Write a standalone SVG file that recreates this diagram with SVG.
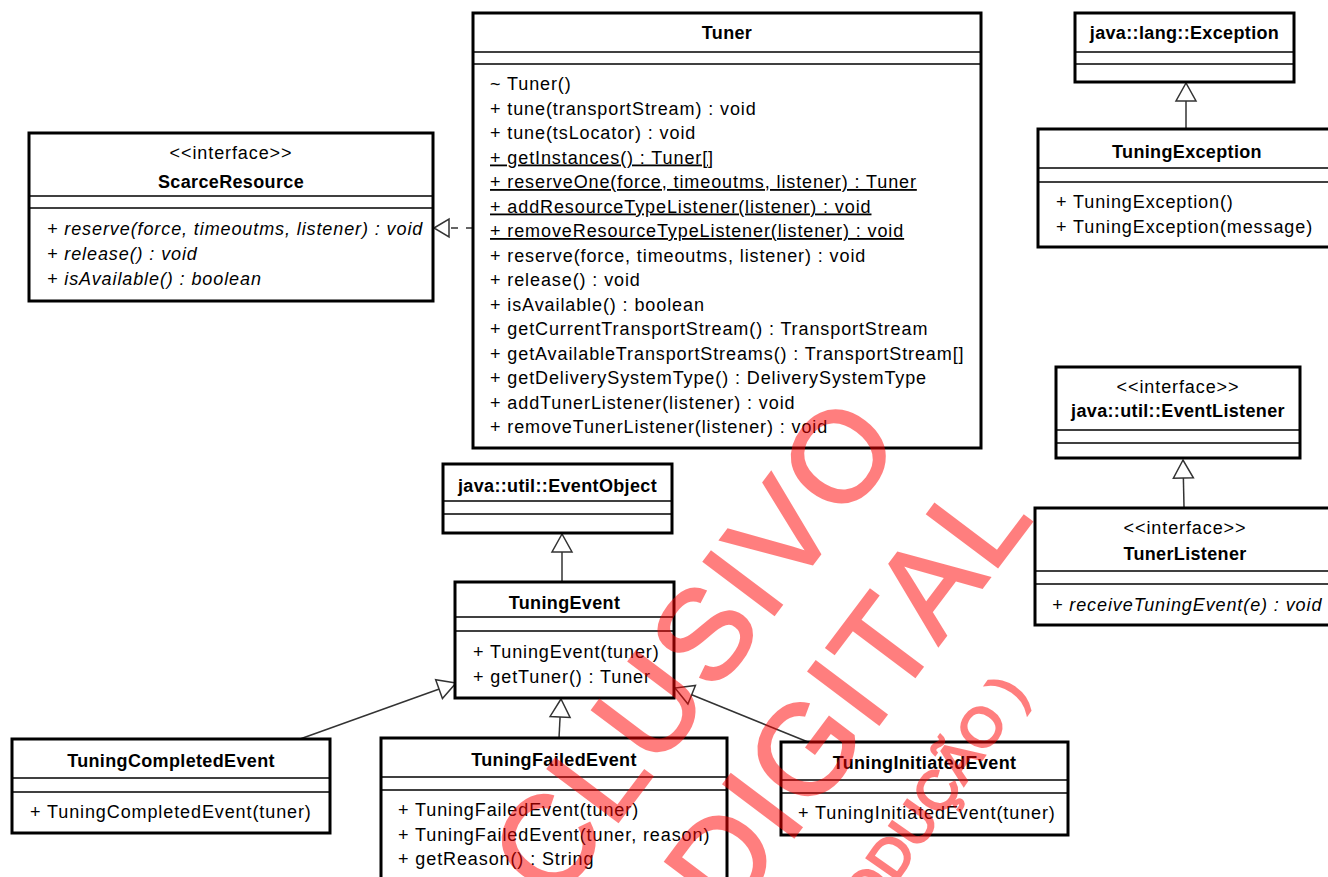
<svg xmlns="http://www.w3.org/2000/svg" width="1328" height="877" viewBox="0 0 1328 877">
<defs>
<style>
.box{fill:#fff;stroke:#000;stroke-width:3}
.sep{stroke:#000;stroke-width:1.3}
.t{font-family:"Liberation Sans",Arial,sans-serif;font-size:18px;letter-spacing:0.9px;fill:#000}
.n{font-weight:bold;letter-spacing:0.35px;text-anchor:middle}
.c{text-anchor:middle}
.i{font-style:italic}
.u{text-decoration:underline}
.conn{stroke:#333;stroke-width:1.5;fill:none}
.wm{font-family:"Liberation Sans",Arial,sans-serif;fill:#ff0000;stroke:#ff0000;stroke-width:2.5}
</style>
<marker id="gen" markerUnits="userSpaceOnUse" markerWidth="24" markerHeight="24" refX="18" refY="10" orient="auto" overflow="visible">
<path d="M18,10 L0,0 L0,20 Z" fill="#fff" stroke="#333" stroke-width="1.5"/>
</marker>
</defs>
<rect width="1328" height="877" fill="#fff"/>

<g id="connectors">
<line class="conn" x1="473" y1="228" x2="448" y2="228" stroke-dasharray="7,8"/>
<path d="M434,228 L449,219 L449,237 Z" fill="#fff" stroke="#333" stroke-width="1.5"/>
<line class="conn" x1="1186" y1="129" x2="1186" y2="83" marker-end="url(#gen)"/>
<line class="conn" x1="1184" y1="507" x2="1183" y2="460" marker-end="url(#gen)"/>
<line class="conn" x1="562" y1="582" x2="562" y2="534" marker-end="url(#gen)"/>
<line class="conn" x1="559" y1="738" x2="561" y2="699" marker-end="url(#gen)"/>
<line class="conn" x1="300" y1="739" x2="456" y2="683" marker-end="url(#gen)"/>
<line class="conn" x1="808" y1="742" x2="675" y2="688" marker-end="url(#gen)"/>
</g>

<g id="ScarceResource">
<rect class="box" x="29" y="133" width="404" height="168"/>
<line class="sep" x1="29" y1="196" x2="433" y2="196"/>
<line class="sep" x1="29" y1="208" x2="433" y2="208"/>
<text class="t c" x="231" y="159">&lt;&lt;interface&gt;&gt;</text>
<text class="t n" x="231" y="188">ScarceResource</text>
<text class="t i" x="47" y="235">+ reserve(force, timeoutms, listener) : void</text>
<text class="t i" x="47" y="260">+ release() : void</text>
<text class="t i" x="47" y="285">+ isAvailable() : boolean</text>
</g>

<g id="Tuner">
<rect class="box" x="473" y="13" width="508" height="435"/>
<line class="sep" x1="473" y1="52" x2="981" y2="52"/>
<line class="sep" x1="473" y1="64" x2="981" y2="64"/>
<text class="t n" x="727" y="39">Tuner</text>
<text class="t" x="490" y="90">~ Tuner()</text>
<text class="t" x="490" y="114.5">+ tune(transportStream) : void</text>
<text class="t" x="490" y="139">+ tune(tsLocator) : void</text>
<text class="t u" x="490" y="163.5">+ getInstances() : Tuner[]</text>
<text class="t u" x="490" y="188">+ reserveOne(force, timeoutms, listener) : Tuner</text>
<text class="t u" x="490" y="212.5">+ addResourceTypeListener(listener) : void</text>
<text class="t u" x="490" y="237">+ removeResourceTypeListener(listener) : void</text>
<text class="t" x="490" y="261.5">+ reserve(force, timeoutms, listener) : void</text>
<text class="t" x="490" y="286">+ release() : void</text>
<text class="t" x="490" y="310.5">+ isAvailable() : boolean</text>
<text class="t" x="490" y="335">+ getCurrentTransportStream() : TransportStream</text>
<text class="t" x="490" y="359.5">+ getAvailableTransportStreams() : TransportStream[]</text>
<text class="t" x="490" y="384">+ getDeliverySystemType() : DeliverySystemType</text>
<text class="t" x="490" y="408.5">+ addTunerListener(listener) : void</text>
<text class="t" x="490" y="433">+ removeTunerListener(listener) : void</text>
</g>

<g id="Exception">
<rect class="box" x="1075" y="13" width="219" height="69"/>
<line class="sep" x1="1075" y1="52" x2="1294" y2="52"/>
<line class="sep" x1="1075" y1="64" x2="1294" y2="64"/>
<text class="t n" x="1184.5" y="39">java::lang::Exception</text>
</g>

<g id="TuningException">
<rect class="box" x="1038" y="129" width="298" height="118"/>
<line class="sep" x1="1038" y1="168" x2="1336" y2="168"/>
<line class="sep" x1="1038" y1="182" x2="1336" y2="182"/>
<text class="t n" x="1187" y="158">TuningException</text>
<text class="t" x="1056" y="208">+ TuningException()</text>
<text class="t" x="1056" y="233">+ TuningException(message)</text>
</g>

<g id="EventListener">
<rect class="box" x="1056" y="367" width="244" height="91"/>
<line class="sep" x1="1056" y1="430" x2="1300" y2="430"/>
<line class="sep" x1="1056" y1="443" x2="1300" y2="443"/>
<text class="t c" x="1178" y="393">&lt;&lt;interface&gt;&gt;</text>
<text class="t n" x="1178" y="417">java::util::EventListener</text>
</g>

<g id="TunerListener">
<rect class="box" x="1035" y="508" width="300" height="117"/>
<line class="sep" x1="1035" y1="571" x2="1335" y2="571"/>
<line class="sep" x1="1035" y1="584" x2="1335" y2="584"/>
<text class="t c" x="1185" y="534">&lt;&lt;interface&gt;&gt;</text>
<text class="t n" x="1185" y="560">TunerListener</text>
<text class="t i" x="1052" y="611">+ receiveTuningEvent(e) : void</text>
</g>

<g id="EventObject">
<rect class="box" x="443" y="464" width="229" height="69"/>
<line class="sep" x1="443" y1="501" x2="672" y2="501"/>
<line class="sep" x1="443" y1="514" x2="672" y2="514"/>
<text class="t n" x="557.5" y="492">java::util::EventObject</text>
</g>

<g id="TuningEvent">
<rect class="box" x="455" y="582" width="219" height="116"/>
<line class="sep" x1="455" y1="617" x2="674" y2="617"/>
<line class="sep" x1="455" y1="631" x2="674" y2="631"/>
<text class="t n" x="564.5" y="609">TuningEvent</text>
<text class="t" x="473" y="658">+ TuningEvent(tuner)</text>
<text class="t" x="473" y="683">+ getTuner() : Tuner</text>
</g>

<g id="TuningCompletedEvent">
<rect class="box" x="12" y="739" width="318" height="94"/>
<line class="sep" x1="12" y1="778" x2="330" y2="778"/>
<line class="sep" x1="12" y1="792" x2="330" y2="792"/>
<text class="t n" x="171" y="767">TuningCompletedEvent</text>
<text class="t" x="30" y="818">+ TuningCompletedEvent(tuner)</text>
</g>

<g id="TuningFailedEvent">
<rect class="box" x="381" y="738" width="346" height="160"/>
<line class="sep" x1="381" y1="777" x2="727" y2="777"/>
<line class="sep" x1="381" y1="790" x2="727" y2="790"/>
<text class="t n" x="554" y="766">TuningFailedEvent</text>
<text class="t" x="398" y="816">+ TuningFailedEvent(tuner)</text>
<text class="t" x="398" y="840.5">+ TuningFailedEvent(tuner, reason)</text>
<text class="t" x="398" y="865">+ getReason() : String</text>
</g>

<g id="TuningInitiatedEvent">
<rect class="box" x="781" y="742" width="287" height="93"/>
<line class="sep" x1="781" y1="780" x2="1068" y2="780"/>
<line class="sep" x1="781" y1="793" x2="1068" y2="793"/>
<text class="t n" x="924.5" y="769">TuningInitiatedEvent</text>
<text class="t" x="798" y="819">+ TuningInitiatedEvent(tuner)</text>
</g>

<g id="watermark" opacity="0.5">
<text class="wm" font-size="128" letter-spacing="3" transform="translate(554.6,906.3) rotate(-53)">CLUSIVO</text>
<text class="wm" font-size="128" letter-spacing="3" transform="translate(729.6,922.8) rotate(-53)">DIGITAL</text>
<text class="wm" font-size="55" stroke-width="1" text-anchor="end" transform="translate(1028.5,693) rotate(-55)">ODUÇÃO )</text>
</g>
</svg>
